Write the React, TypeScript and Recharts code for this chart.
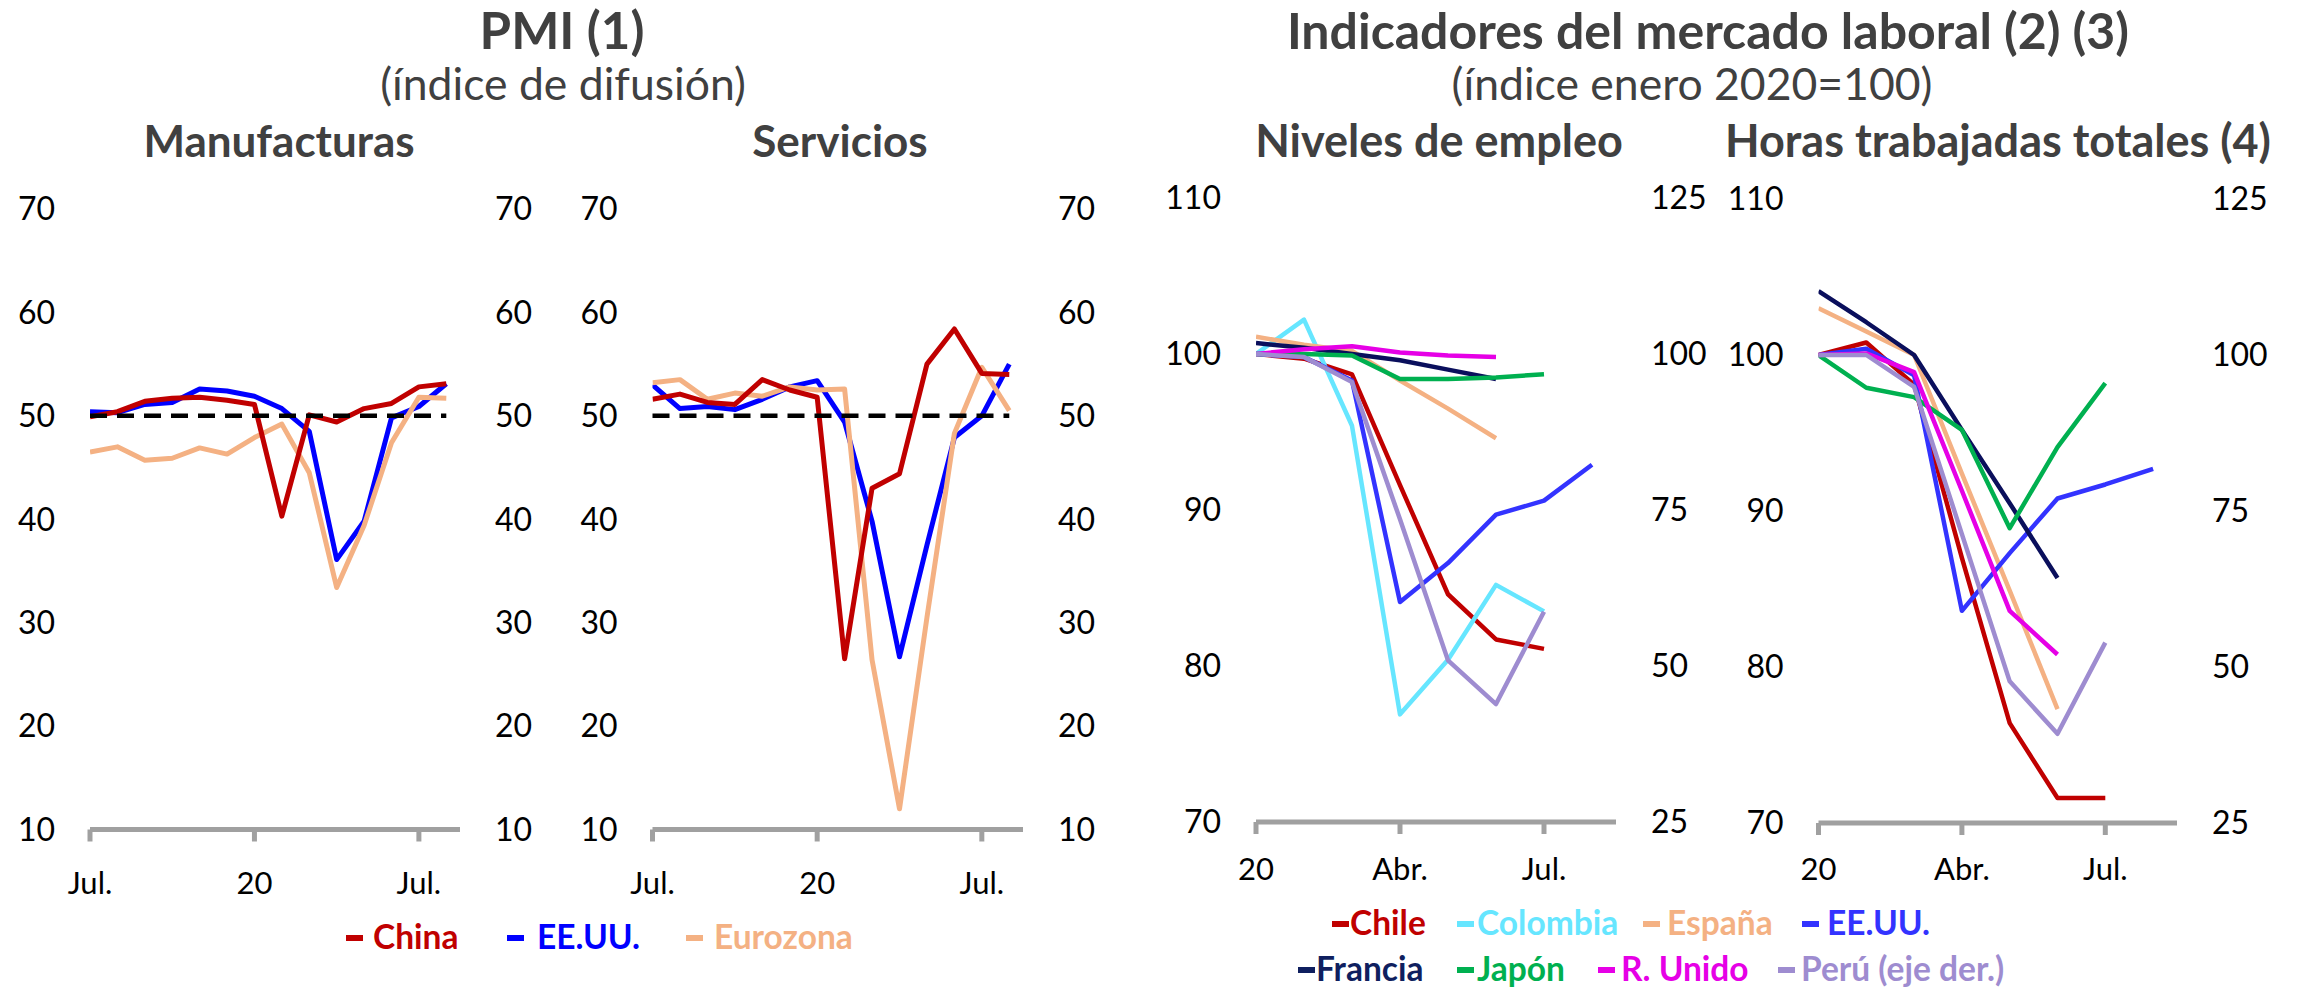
import React from "react";
import { LineChart, Line, XAxis, YAxis, ReferenceLine } from "recharts";

// ---- datos PMI (jul.19 - ago.20) ----
const mesesPmi = ["Jul.19", "Ago.19", "Sep.19", "Oct.19", "Nov.19", "Dic.19", "Ene.20", "Feb.20", "Mar.20", "Abr.20", "May.20", "Jun.20", "Jul.20", "Ago.20"];
const chinaManuf = [49.9, 50.4, 51.4, 51.7, 51.8, 51.5, 51.1, 40.3, 50.1, 49.4, 50.7, 51.2, 52.8, 53.1];
const eeuuManuf = [50.4, 50.3, 51.1, 51.3, 52.6, 52.4, 51.9, 50.7, 48.5, 36.1, 39.8, 49.8, 50.9, 53.1];
const euroManuf = [46.5, 47.0, 45.7, 45.9, 46.9, 46.3, 47.9, 49.2, 44.5, 33.4, 39.4, 47.4, 51.8, 51.7];
const chinaServ = [51.6, 52.1, 51.3, 51.1, 53.5, 52.5, 51.8, 26.5, 43.0, 44.4, 55.0, 58.4, 54.1, 54.0];
const eeuuServ = [53.0, 50.7, 50.9, 50.6, 51.6, 52.8, 53.4, 49.4, 39.8, 26.7, 37.5, 47.9, 50.0, 55.0];
const euroServ = [53.2, 53.5, 51.6, 52.2, 51.9, 52.8, 52.5, 52.6, 26.4, 12.0, 30.5, 48.3, 54.7, 50.5];
const pmiTicksX = [0, 6, 12];
const pmiLabelsX = ["Jul.", "20", "Jul."];
const pmiTicksY = [10, 20, 30, 40, 50, 60, 70];
const umbralPmi = 50;

// ---- datos mercado laboral (ene.20 - ago.20) ----
const mesesLab = ["Ene.", "Feb.", "Mar.", "Abr.", "May.", "Jun.", "Jul.", "Ago."];
const chileEmp = [100.0, 99.7, 98.7, 91.6, 84.6, 81.7, 81.1, null];
const colombiaEmp = [100.0, 102.2, 95.4, 76.9, 80.4, 85.2, 83.5, null];
const espanaEmp = [101.1, 100.6, 100.2, 98.3, 96.5, 94.6, null, null];
const eeuuEmp = [100.0, 99.8, 98.3, 84.1, 86.6, 89.7, 90.6, 92.9];
const franciaEmp = [100.7, 100.4, 100.0, 99.6, 99.0, 98.4, null, null];
const japonEmp = [100.0, 100.0, 99.9, 98.4, 98.4, 98.5, 98.7, null];
const ruEmp = [100.0, 100.3, 100.5, 100.1, 99.9, 99.8, null, null];
const peruEmp = [100.0, 99.5, 95.5, 73.5, 50.9, 43.9, 58.7, null];

const chileHoras = [100.0, 100.8, 98.1, 87.0, 76.4, 71.6, 71.6, null];
const espanaHoras = [103.0, 101.5, 100.0, 92.4, 84.9, 77.3, null, null];
const eeuuHoras = [100.0, 100.4, 98.7, 83.6, 87.3, 90.8, 91.7, 92.7];
const franciaHoras = [104.1, 102.1, 100.0, 95.2, 90.5, 85.7, null, null];
const japonHoras = [100.0, 97.9, 97.3, 95.2, 88.9, 94.1, 98.2, null];
const ruHoras = [100.0, 100.1, 98.9, 91.3, 83.6, 80.8, null, null];
const peruHoras = [100.0, 100.0, 94.9, 71.3, 47.7, 39.3, 53.9, null];

const labTicksX = [0, 3, 6];
const labLabelsX = ["20", "Abr.", "Jul."];
const labTicksL = [70, 80, 90, 100, 110];
const labTicksR = [25, 50, 75, 100, 125];

const W = 2305;
const H = 987;
const GRIS = "#A0A0A0";
const TITULO = "#404040";

const C = {
  china: "#C00000",
  eeuu: "#0000FF",
  euro: "#F4B183",
  chile: "#C00000",
  colombia: "#66E6FF",
  espana: "#F4B183",
  eeuuLab: "#3333FF",
  francia: "#0A0F5C",
  japon: "#00B050",
  ru: "#E600E6",
  peru: "#9E8CD0",
};

function tabla(meses: string[], series: Record<string, (number | null)[]>) {
  return meses.map((m, i) => {
    const row: any = { i, mes: m };
    Object.keys(series).forEach((k) => (row[k] = series[k][i]));
    return row;
  });
}

const dataManuf = tabla(mesesPmi, { china: chinaManuf, eeuu: eeuuManuf, euro: euroManuf });
const dataServ = tabla(mesesPmi, { china: chinaServ, eeuu: eeuuServ, euro: euroServ });
const dataEmp = tabla(mesesLab, {
  chile: chileEmp, colombia: colombiaEmp, espana: espanaEmp, eeuu: eeuuEmp,
  francia: franciaEmp, japon: japonEmp, ru: ruEmp, peru: peruEmp,
});
const dataHoras = tabla(mesesLab, {
  chile: chileHoras, espana: espanaHoras, eeuu: eeuuHoras,
  francia: franciaHoras, japon: japonHoras, ru: ruHoras, peru: peruHoras,
});

// en el PMI ambos ejes tienen la misma escala; China va en el derecho para que se dibuje
const pmiLines = [
  { key: "eeuu", color: C.eeuu },
  { key: "euro", color: C.euro },
  { key: "china", color: C.china, eje: "r" },
];
const labLines = [
  { key: "chile", color: C.chile },
  { key: "colombia", color: C.colombia },
  { key: "espana", color: C.espana },
  { key: "eeuu", color: C.eeuuLab },
  { key: "francia", color: C.francia },
  { key: "japon", color: C.japon },
  { key: "ru", color: C.ru },
  { key: "peru", color: C.peru, eje: "r" },
];

const tickY = { fontSize: 32, fill: "#000" };

function Panel(p: any) {
  const axisW = 80;
  const xH = 60;
  return (
    <div style={{ position: "absolute", left: 0, top: 0 }}>
      <LineChart
        width={W}
        height={H}
        data={p.data}
        margin={{ top: p.top, bottom: H - p.bottom - xH, left: p.left - axisW, right: W - p.right - axisW }}
      >
        <XAxis
          dataKey="i"
          type="number"
          domain={[0, p.xMax]}
          ticks={p.xTicks}
          interval={0}
          allowDataOverflow
          tickFormatter={(v: number) => p.xLabels[p.xTicks.indexOf(v)]}
          height={xH}
          axisLine={{ stroke: GRIS, strokeWidth: 5 }}
          tickLine={{ stroke: GRIS, strokeWidth: 5 }}
          tickSize={12}
          tickMargin={p.xMargin}
          tick={{ fontSize: 31, fill: "#000" }}
        />
        <YAxis
          yAxisId="l"
          orientation="left"
          width={axisW}
          domain={p.yL}
          ticks={p.ticksL}
          interval={0}
          allowDataOverflow
          axisLine={false}
          tickLine={false}
          tickSize={0}
          tickMargin={35}
          tick={tickY}
        />
        <YAxis
          yAxisId="r"
          orientation="right"
          width={axisW}
          domain={p.yR}
          ticks={p.ticksR}
          interval={0}
          allowDataOverflow
          axisLine={false}
          tickLine={false}
          tickSize={0}
          tickMargin={35}
          tick={tickY}
        />
        {p.lines.map((s: any) => (
          <Line
            key={s.key}
            yAxisId={s.eje || "l"}
            dataKey={s.key}
            stroke={s.color}
            strokeWidth={p.sw}
            strokeLinejoin="round"
            dot={false}
            activeDot={false}
            isAnimationActive={false}
          />
        ))}
        {p.umbral != null && (
          <ReferenceLine
            yAxisId="l"
            segment={[{ x: 0, y: p.umbral }, { x: p.data.length - 1, y: p.umbral }]}
            stroke="#000"
            strokeWidth={4.5}
            strokeDasharray="17 10"
          />
        )}
      </LineChart>
    </div>
  );
}

const legendPmi = [
  { name: "China", color: C.china, mx: 346, tx: 373, y: 949 },
  { name: "EE.UU.", color: C.eeuu, mx: 507, tx: 537, y: 949 },
  { name: "Eurozona", color: C.euro, mx: 686, tx: 714, y: 949 },
];
const legendLab = [
  { name: "Chile", color: C.chile, mx: 1332, tx: 1350, y: 935 },
  { name: "Colombia", color: C.colombia, mx: 1457, tx: 1477, y: 935 },
  { name: "España", color: C.espana, mx: 1643, tx: 1667, y: 935 },
  { name: "EE.UU.", color: C.eeuuLab, mx: 1802, tx: 1827, y: 935 },
  { name: "Francia", color: "#0F1F5F", mx: 1298, tx: 1316, y: 981 },
  { name: "Japón", color: C.japon, mx: 1457, tx: 1477, y: 981 },
  { name: "R. Unido", color: C.ru, mx: 1598, tx: 1621, y: 981 },
  { name: "Perú (eje der.)", color: C.peru, mx: 1778, tx: 1801, y: 981 },
];

export default function App() {
  return (
    <div
      style={{
        position: "absolute",
        left: 0,
        top: 0,
        width: W,
        height: H,
        background: "#fff",
        fontFamily: "Lato, 'Open Sans', sans-serif",
      }}
    >
      <Panel
        data={dataManuf} lines={pmiLines} left={90} right={460} top={209} bottom={829.5}
        xMax={13.5} xTicks={pmiTicksX} xLabels={pmiLabelsX} xMargin={30.5}
        yL={[10, 70]} yR={[10, 70]} ticksL={pmiTicksY} ticksR={pmiTicksY} sw={5} umbral={umbralPmi}
      />
      <Panel
        data={dataServ} lines={pmiLines} left={652.5} right={1023} top={209} bottom={829.5}
        xMax={13.5} xTicks={pmiTicksX} xLabels={pmiLabelsX} xMargin={30.5}
        yL={[10, 70]} yR={[10, 70]} ticksL={pmiTicksY} ticksR={pmiTicksY} sw={5} umbral={umbralPmi}
      />
      <Panel
        data={dataEmp} lines={labLines} left={1256} right={1616} top={198} bottom={822}
        xMax={7.5} xTicks={labTicksX} xLabels={labLabelsX} xMargin={23.5}
        yL={[70, 110]} yR={[25, 125]} ticksL={labTicksL} ticksR={labTicksR} sw={4.5}
      />
      <Panel
        data={dataHoras} lines={labLines.filter((s) => s.key !== "colombia")} left={1818.5} right={2177} top={199} bottom={823}
        xMax={7.5} xTicks={labTicksX} xLabels={labLabelsX} xMargin={22.5}
        yL={[70, 110]} yR={[25, 125]} ticksL={labTicksL} ticksR={labTicksR} sw={4.5}
      />
      <svg width={W} height={H} style={{ position: "absolute", left: 0, top: 0, pointerEvents: "none" }}>
        <g fill={TITULO} textAnchor="middle">
          <text x={562} y={49} fontSize={51} fontWeight={700}>PMI (1)</text>
          <text x={563} y={100} fontSize={44.5}>(índice de difusión)</text>
          <text x={279} y={157} fontSize={44} fontWeight={700}>Manufacturas</text>
          <text x={840} y={157} fontSize={44} fontWeight={700}>Servicios</text>
          <text x={1708} y={49} fontSize={50} fontWeight={700}>Indicadores del mercado laboral (2) (3)</text>
          <text x={1692} y={100} fontSize={44.5}>(índice enero 2020=100)</text>
          <text x={1439} y={157} fontSize={45} fontWeight={700}>Niveles de empleo</text>
          <text x={1998} y={157} fontSize={45} fontWeight={700}>Horas trabajadas totales (4)</text>
        </g>
        {[...legendPmi, ...legendLab].map((l) => (
          <g key={l.name + l.mx}>
            <rect x={l.mx} y={l.y - 14} width={17} height={6} fill={l.color} />
            <text x={l.tx} y={l.y} fontSize={33.5} fontWeight={700} fill={l.color}>{l.name}</text>
          </g>
        ))}
      </svg>
    </div>
  );
}
